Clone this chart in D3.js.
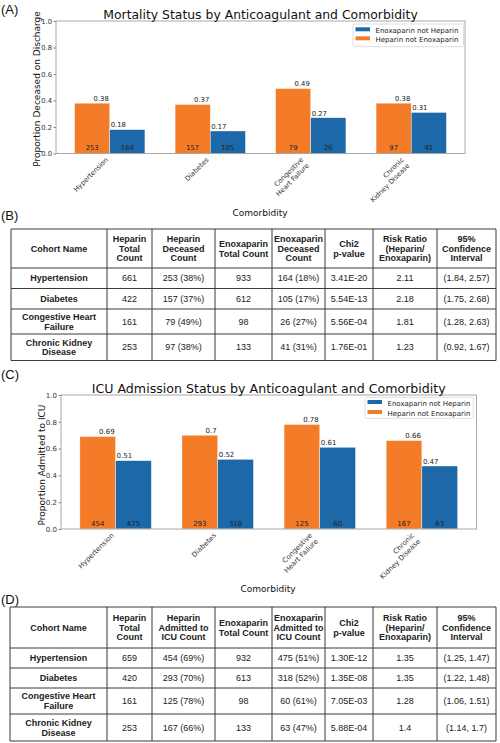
<!DOCTYPE html>
<html>
<head>
<meta charset="utf-8">
<script src="https://cdn.jsdelivr.net/npm/d3@7"></script>
<style>
  html, body { margin: 0; padding: 0; background: #fff; }
  svg { display: block; }
</style>
</head>
<body>
<svg id="fig" width="500" height="743"></svg>
<script>
// ---------------- DATA ----------------
const categories = ["Hypertension", "Diabetes", "Congestive\nHeart Failure", "Chronic\nKidney Disease"];
const seriesNames = ["Enoxaparin not Heparin", "Heparin not Enoxaparin"];

// Panel A: mortality
const mortHeparin = [0.38, 0.37, 0.49, 0.38];
const mortEnoxaparin = [0.18, 0.17, 0.27, 0.31];
const mortHeparinCount = [253, 157, 79, 97];
const mortEnoxaparinCount = [164, 105, 26, 41];

// Panel C: ICU admission
const icuHeparin = [0.69, 0.7, 0.78, 0.66];
const icuEnoxaparin = [0.51, 0.52, 0.61, 0.47];
const icuHeparinCount = [454, 293, 125, 167];
const icuEnoxaparinCount = [475, 318, 60, 63];

const yTicks = [0, 0.2, 0.4, 0.6, 0.8, 1.0];

// Panel B table
const tableBHeader = ["Cohort Name", "Heparin\nTotal\nCount", "Heparin\nDeceased\nCount", "Enoxaparin\nTotal Count",
  "Enoxaparin\nDeceased\nCount", "Chi2\np-value", "Risk Ratio\n(Heparin/\nEnoxaparin)", "95%\nConfidence\nInterval"];
const tableBRows = [
  ["Hypertension", "661", "253 (38%)", "933", "164 (18%)", "3.41E-20", "2.11", "(1.84, 2.57)"],
  ["Diabetes", "422", "157 (37%)", "612", "105 (17%)", "5.54E-13", "2.18", "(1.75, 2.68)"],
  ["Congestive Heart\nFailure", "161", "79 (49%)", "98", "26 (27%)", "5.56E-04", "1.81", "(1.28, 2.63)"],
  ["Chronic Kidney\nDisease", "253", "97 (38%)", "133", "41 (31%)", "1.76E-01", "1.23", "(0.92, 1.67)"]
];

// Panel D table
const tableDHeader = ["Cohort Name", "Heparin\nTotal\nCount", "Heparin\nAdmitted to\nICU Count", "Enoxaparin\nTotal Count",
  "Enoxaparin\nAdmitted to\nICU Count", "Chi2\np-value", "Risk Ratio\n(Heparin/\nEnoxaparin)", "95%\nConfidence\nInterval"];
const tableDRows = [
  ["Hypertension", "659", "454 (69%)", "932", "475 (51%)", "1.30E-12", "1.35", "(1.25, 1.47)"],
  ["Diabetes", "420", "293 (70%)", "613", "318 (52%)", "1.35E-08", "1.35", "(1.22, 1.48)"],
  ["Congestive Heart\nFailure", "161", "125 (78%)", "98", "60 (61%)", "7.05E-03", "1.28", "(1.06, 1.51)"],
  ["Chronic Kidney\nDisease", "253", "167 (66%)", "133", "63 (47%)", "5.88E-04", "1.4", "(1.14, 1.7)"]
];

// ---------------- STYLE ----------------
const ORANGE = "#f47b27";
const BLUE = "#1c68a9";
const MPL = "'DejaVu Sans', sans-serif";
const ARIAL = "'Liberation Sans', Arial, sans-serif";

const svg = d3.select("#fig");

function panelLetter(txt, y) {
  svg.append("text").attr("x", 1).attr("y", y)
    .attr("font-family", ARIAL).attr("font-size", 13).attr("fill", "#111").text(txt);
}

function drawChart(cfg) {
  const g = svg.append("g");
  const x = d3.scaleLinear().domain([-0.535, categories.length - 1 + 0.535]).range([cfg.left, cfg.right]);
  const y = d3.scaleLinear().domain([0, 1]).range([cfg.bottom, cfg.top]);
  const bw = 0.35;

  // bars
  const idx = d3.range(categories.length);
  g.selectAll("rect.h").data(idx).join("rect")
    .attr("x", i => x(i - bw)).attr("width", i => x(i) - x(i - bw))
    .attr("y", i => y(cfg.hep[i])).attr("height", i => y(0) - y(cfg.hep[i]))
    .attr("fill", ORANGE).attr("stroke", "#fff").attr("stroke-width", 0.4);
  g.selectAll("rect.e").data(idx).join("rect")
    .attr("x", i => x(i)).attr("width", i => x(i + bw) - x(i))
    .attr("y", i => y(cfg.enox[i])).attr("height", i => y(0) - y(cfg.enox[i]))
    .attr("fill", BLUE).attr("stroke", "#fff").attr("stroke-width", 0.4);

  // value labels
  const lf = cfg.tickFont;
  g.selectAll("text.hv").data(idx).join("text")
    .attr("x", i => x(i) - 1).attr("y", i => y(cfg.hep[i]) - 2.2)
    .attr("text-anchor", "end").attr("font-family", MPL).attr("font-size", lf).attr("fill", "#222")
    .text(i => String(cfg.hep[i]));
  g.selectAll("text.ev").data(idx).join("text")
    .attr("x", i => x(i) + 1).attr("y", i => y(cfg.enox[i]) - 2.2)
    .attr("text-anchor", "start").attr("font-family", MPL).attr("font-size", lf).attr("fill", "#222")
    .text(i => String(cfg.enox[i]));
  // count labels
  g.selectAll("text.hc").data(idx).join("text")
    .attr("x", i => x(i - bw / 2)).attr("y", y(0) - 3.2)
    .attr("text-anchor", "middle").attr("font-family", MPL).attr("font-size", lf).attr("fill", "#222")
    .text(i => cfg.hepCount[i]);
  g.selectAll("text.ec").data(idx).join("text")
    .attr("x", i => x(i + bw / 2)).attr("y", y(0) - 3.2)
    .attr("text-anchor", "middle").attr("font-family", MPL).attr("font-size", lf).attr("fill", "#222")
    .text(i => cfg.enoxCount[i]);

  // frame
  g.append("rect").attr("x", cfg.left).attr("y", cfg.top)
    .attr("width", cfg.right - cfg.left).attr("height", cfg.bottom - cfg.top)
    .attr("fill", "none").attr("stroke", "#a8a8a8").attr("stroke-width", 1);

  // y axis
  const ya = g.append("g").attr("transform", `translate(${cfg.left},0)`)
    .call(d3.axisLeft(y).tickValues(yTicks).tickFormat(d3.format(".1f")).tickSize(2.5).tickPadding(1.5));
  ya.select(".domain").remove();
  ya.selectAll("line").attr("stroke", "#888");
  ya.selectAll("text").attr("font-family", MPL).attr("font-size", lf).attr("fill", "#333");

  // x tick labels (rotated 45)
  const lh = lf * 1.2;
  idx.forEach(i => {
    const lines = categories[i].split("\n");
    const shift = 0.707 * ((lines.length - 1) * lh + lf * 0.24);
    const t = g.append("text")
      .attr("transform", `translate(${x(i) - shift},${cfg.bottom + 3 + 0.707 * lf * 0.76}) rotate(-45)`)
      .attr("text-anchor", "end").attr("font-family", MPL).attr("font-size", lf).attr("fill", "#333");
    lines.forEach((l, k) => t.append("tspan").attr("x", 0).attr("y", k * lh).text(l));
  });

  // title
  g.append("text").attr("x", (cfg.left + cfg.right) / 2).attr("y", cfg.titleY)
    .attr("text-anchor", "middle").attr("font-family", MPL).attr("font-size", cfg.titleFont).attr("fill", "#111")
    .text(cfg.title);
  // y label
  g.append("text").attr("transform", `translate(${cfg.ylabX},${cfg.ylabY}) rotate(-90)`)
    .attr("text-anchor", "middle").attr("font-family", MPL).attr("font-size", 9).attr("fill", "#111")
    .text(cfg.ylabel);
  // x label
  g.append("text").attr("x", cfg.xlabX).attr("y", cfg.xlabY)
    .attr("text-anchor", "middle").attr("font-family", MPL).attr("font-size", 9).attr("fill", "#111")
    .text("Comorbidity");

  // legend
  const L = cfg.legend;
  g.append("rect").attr("x", L.x).attr("y", L.y).attr("width", L.w).attr("height", L.h)
    .attr("rx", 1.5).attr("fill", "#fff").attr("fill-opacity", 0.85).attr("stroke", "#d4d4d4").attr("stroke-width", 0.8);
  const lc = [BLUE, ORANGE];
  seriesNames.forEach((s, k) => {
    const by = L.y + L.firstBase + k * L.step;
    g.append("rect").attr("x", L.x + 2.5).attr("y", by - 6).attr("width", 14.5).attr("height", 4)
      .attr("fill", lc[k]);
    g.append("text").attr("x", L.x + 22.5).attr("y", by).attr("font-family", MPL).attr("font-size", 7)
      .attr("fill", "#222").text(s);
  });
}

function drawTable(cfg, header, rows) {
  const g = svg.append("g");
  const cols = cfg.cols, rowsY = cfg.rows;
  const fs = 9, lh = 9.6;
  // text
  const allRows = [header].concat(rows);
  allRows.forEach((r, ri) => {
    const cy = (rowsY[ri] + rowsY[ri + 1]) / 2;
    r.forEach((cell, ci) => {
      const cx = (cols[ci] + cols[ci + 1]) / 2;
      const lines = cell.split("\n");
      const bold = ri === 0 || ci === 0;
      const t = g.append("text").attr("text-anchor", "middle").attr("font-family", ARIAL)
        .attr("font-size", fs).attr("font-weight", bold ? "bold" : "normal").attr("fill", "#222");
      const y0 = cy + 3.2 - (lines.length - 1) * lh / 2;
      lines.forEach((l, k) => t.append("tspan").attr("x", cx).attr("y", y0 + k * lh).text(l));
    });
  });
  // grid
  g.selectAll("line.h").data(rowsY).join("line")
    .attr("x1", cols[0]).attr("x2", cols[cols.length - 1]).attr("y1", d => d).attr("y2", d => d)
    .attr("stroke", "#3a3a3a").attr("stroke-width", 1);
  g.selectAll("line.v").data(cols).join("line")
    .attr("y1", rowsY[0]).attr("y2", rowsY[rowsY.length - 1]).attr("x1", d => d).attr("x2", d => d)
    .attr("stroke", "#3a3a3a").attr("stroke-width", 1);
}

// ---------------- PANELS ----------------
panelLetter("(A)", 13.5);
drawChart({
  left: 56, right: 465, top: 21, bottom: 153.5,
  hep: mortHeparin, enox: mortEnoxaparin, hepCount: mortHeparinCount, enoxCount: mortEnoxaparinCount,
  tickFont: 6.8, title: "Mortality Status by Anticoagulant and Comorbidity", titleFont: 12.4, titleY: 18.5,
  ylabel: "Proportion Deceased on Discharge", ylabX: 39.5, ylabY: 89,
  xlabX: 260, xlabY: 216,
  legend: { x: 353, y: 24, w: 110.5, h: 22.7, firstBase: 9.3, step: 9 }
});

panelLetter("(B)", 220);
drawTable({ cols: [11, 107, 152, 215, 272, 325, 373, 437, 496], rows: [229, 268, 288.5, 309, 334, 360.5] },
  tableBHeader, tableBRows);

panelLetter("(C)", 378.5);
drawChart({
  left: 61, right: 476.5, top: 395, bottom: 529,
  hep: icuHeparin, enox: icuEnoxaparin, hepCount: icuHeparinCount, enoxCount: icuEnoxaparinCount,
  tickFont: 7, title: "ICU Admission Status by Anticoagulant and Comorbidity", titleFont: 12.6, titleY: 392.5,
  ylabel: "Proportion Admitted to ICU", ylabX: 44.5, ylabY: 465,
  xlabX: 268, xlabY: 592,
  legend: { x: 365, y: 397.3, w: 108.3, h: 21, firstBase: 8.7, step: 10 }
});

panelLetter("(D)", 604);
drawTable({ cols: [10, 107, 152, 215, 272, 325, 373, 437, 496], rows: [607, 648, 668, 688, 714, 741] },
  tableDHeader, tableDRows);
</script>
</body>
</html>
